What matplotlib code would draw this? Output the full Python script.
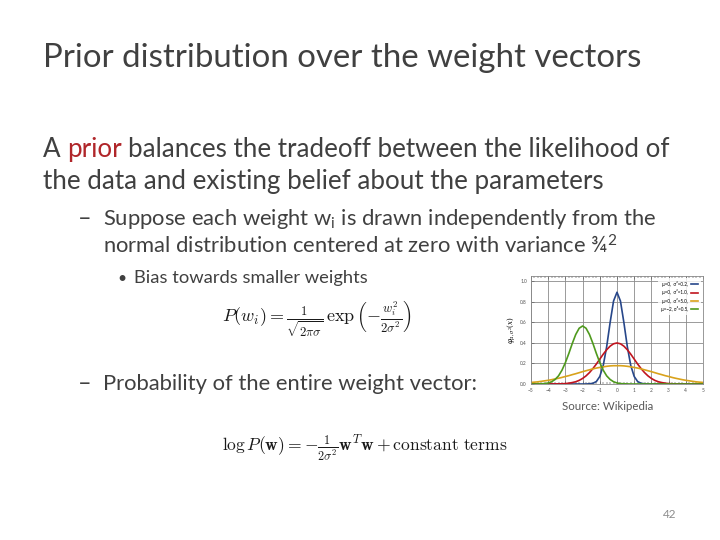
import matplotlib
matplotlib.use("Agg")
import matplotlib.pyplot as plt
import numpy as np

# slide text
title = "Prior distribution over the weight vectors"
body_1 = ["A ", "prior", " balances the tradeoff between the likelihood of"]
body_2 = "the data and existing belief about the parameters"
sub_1a = r"Suppose each weight w$_\mathregular{i}$ is drawn independently from the"
sub_1b = r"normal distribution centered at zero with variance ¾$^\mathregular{2}$"
subsub = "Bias towards smaller weights"
sub_2 = "Probability of the entire weight vector:"
formula_1 = r"$P(w_i) = \frac{1}{\sqrt{2\pi\sigma}}\,\exp\left(-\frac{w_i^2}{2\sigma^2}\right)$"
formula_2 = r"$\log P(\mathbf{w}) = -\frac{1}{2\sigma^2}\mathbf{w}^T\mathbf{w} + \mathrm{constant\ terms}$"
source = "Source: Wikipedia"
page = "42"

# normal pdf curves (x step 0.2)
x_vals = np.arange(-5.0, 5.0001, 0.2)
blue = [0]*16 + [0.000, 0.002, 0.007, 0.024, 0.073, 0.180, 0.363, 0.598, 0.807, 0.892,
                 0.807, 0.598, 0.363, 0.180, 0.073, 0.024, 0.007, 0.002, 0.000] + [0]*16
red = [0, 0, 0, 0, 0, 0.0001, 0.0003, 0.001, 0.001, 0.002, 0.004, 0.008, 0.014, 0.022,
       0.035, 0.054, 0.079, 0.111, 0.150, 0.194, 0.242, 0.290, 0.333, 0.368, 0.391, 0.399,
       0.391, 0.368, 0.333, 0.290, 0.242, 0.194, 0.150, 0.111, 0.079, 0.054, 0.035, 0.022,
       0.014, 0.008, 0.004, 0.002, 0.001, 0.001, 0.0003, 0.0001, 0, 0, 0, 0, 0]
orange = [0.015, 0.018, 0.021, 0.026, 0.031, 0.036, 0.042, 0.049, 0.056, 0.064, 0.073,
          0.081, 0.091, 0.100, 0.110, 0.120, 0.129, 0.138, 0.147, 0.155, 0.161, 0.167,
          0.172, 0.176, 0.178, 0.178, 0.178, 0.176, 0.172, 0.167, 0.161, 0.155, 0.147,
          0.138, 0.129, 0.120, 0.110, 0.100, 0.091, 0.081, 0.073, 0.064, 0.056, 0.049,
          0.042, 0.036, 0.031, 0.026, 0.021, 0.018, 0.015]
green = [0.000, 0.000, 0.001, 0.002, 0.004, 0.010, 0.022, 0.044, 0.079, 0.134, 0.208,
         0.297, 0.394, 0.481, 0.542, 0.564, 0.542, 0.481, 0.394, 0.297, 0.208, 0.134,
         0.079, 0.044, 0.022, 0.010, 0.004, 0.002, 0.001] + [0]*22
curve_labels = ["μ=0,  σ²=0.2,", "μ=0,  σ²=1.0,", "μ=0,  σ²=5.0,", "μ=−2, σ²=0.5,"]
curve_colors = ["#27478a", "#c0141e", "#d9a21b", "#4f9a1e"]

plt.rcParams["font.family"] = ["Lato", "DejaVu Sans"]
plt.rcParams["mathtext.fontset"] = "custom"
plt.rcParams["mathtext.rm"] = "Lato"
plt.rcParams["mathtext.it"] = "Lato:italic"
plt.rcParams["mathtext.bf"] = "Lato:bold"

W, H = 720, 540
fig = plt.figure(figsize=(7.2, 5.4), dpi=100, facecolor="white")
renderer = fig.canvas.get_renderer()
txt = "#404040"


def put(x, y, s, **kw):
    # x, y in pixels from top-left, y = baseline
    return fig.text(x / W, 1 - y / H, s, va="baseline", **kw)


def width(s, **kw):
    t = fig.text(0, 0, s, **kw)
    w = t.get_window_extent(renderer).width
    t.remove()
    return w


put(43, 67, title, fontsize=23.8, color=txt)

# first body line with the red word
fs_body = 18.7
put(43, 157, body_1[0].strip(), fontsize=fs_body, color=txt)
x_prior = 43 + width("A prior", fontsize=fs_body) - width("prior", fontsize=fs_body)
put(x_prior, 157, body_1[1], fontsize=fs_body, color="#b0262a")
x_rest = 43 + width("A prior balances", fontsize=fs_body) - width("balances", fontsize=fs_body)
put(x_rest, 157, body_1[2].strip(), fontsize=fs_body, color=txt)
put(43, 189, body_2, fontsize=fs_body, color=txt)

fs_sub = 15.8
put(78, 225, "–", fontsize=fs_sub + 1, color=txt)
put(103, 225, sub_1a, fontsize=fs_sub, color=txt)
put(103, 253, sub_1b, fontsize=fs_sub, color=txt)
put(117, 283, "•", fontsize=11.5, color=txt)
put(134, 283, subsub, fontsize=13.2, color=txt)
put(78, 390, "–", fontsize=fs_sub + 1, color=txt)
put(103, 390, sub_2, fontsize=fs_sub, color=txt)

fig.text(222 / W, 1 - 319 / H, formula_1, fontsize=13, color="#1a1a1a",
         va="center", math_fontfamily="cm")
fig.text(222 / W, 1 - 449 / H, formula_2, fontsize=12.6, color="#1a1a1a",
         va="center", math_fontfamily="cm")

put(562, 410, source, fontsize=8.3, color="#595959")
put(663, 518, page, fontsize=8.5, color="#8c8c8c")

# the small picture
ax = fig.add_axes([531 / W, 1 - 384 / H, 172 / W, 108 / H])
for y, lab, col in zip([blue, red, orange, green], curve_labels, curve_colors):
    ax.plot(x_vals, y, color=col, lw=1.2, label=lab)
ax.set_xlim(-5, 5)
ax.set_ylim(0, 1.05)
ax.set_xticks(range(-5, 6))
ax.set_yticks([0, 0.2, 0.4, 0.6, 0.8, 1.0])
ax.set_yticklabels(["0.0", "0.2", "0.4", "0.6", "0.8", "1.0"])
ax.set_xticks(np.arange(-5, 5.01, 0.2), minor=True)
ax.grid(True, color="#8a8a8a", lw=0.6)
ax.tick_params(labelsize=3.5, length=2, width=0.4, direction="in", top=True,
               colors="#555555", pad=3)
ax.tick_params(which="minor", length=1.2, width=0.3, direction="in", top=True)
for s in ax.spines.values():
    s.set_color("#888888")
    s.set_linewidth(0.6)
ax.set_ylabel(r"$\varphi_{\mu,\sigma^2}(x)$", fontsize=5, labelpad=2,
              math_fontfamily="dejavuserif")
leg = ax.legend(loc="upper right", fontsize=3.3, markerfirst=False, frameon=True,
                handlelength=1.6, labelspacing=0.5, borderpad=0.6, handletextpad=0.5)
leg.get_frame().set_edgecolor("none")
leg.get_frame().set_facecolor("white")

fig.savefig("out.png", dpi=100, facecolor="white")
